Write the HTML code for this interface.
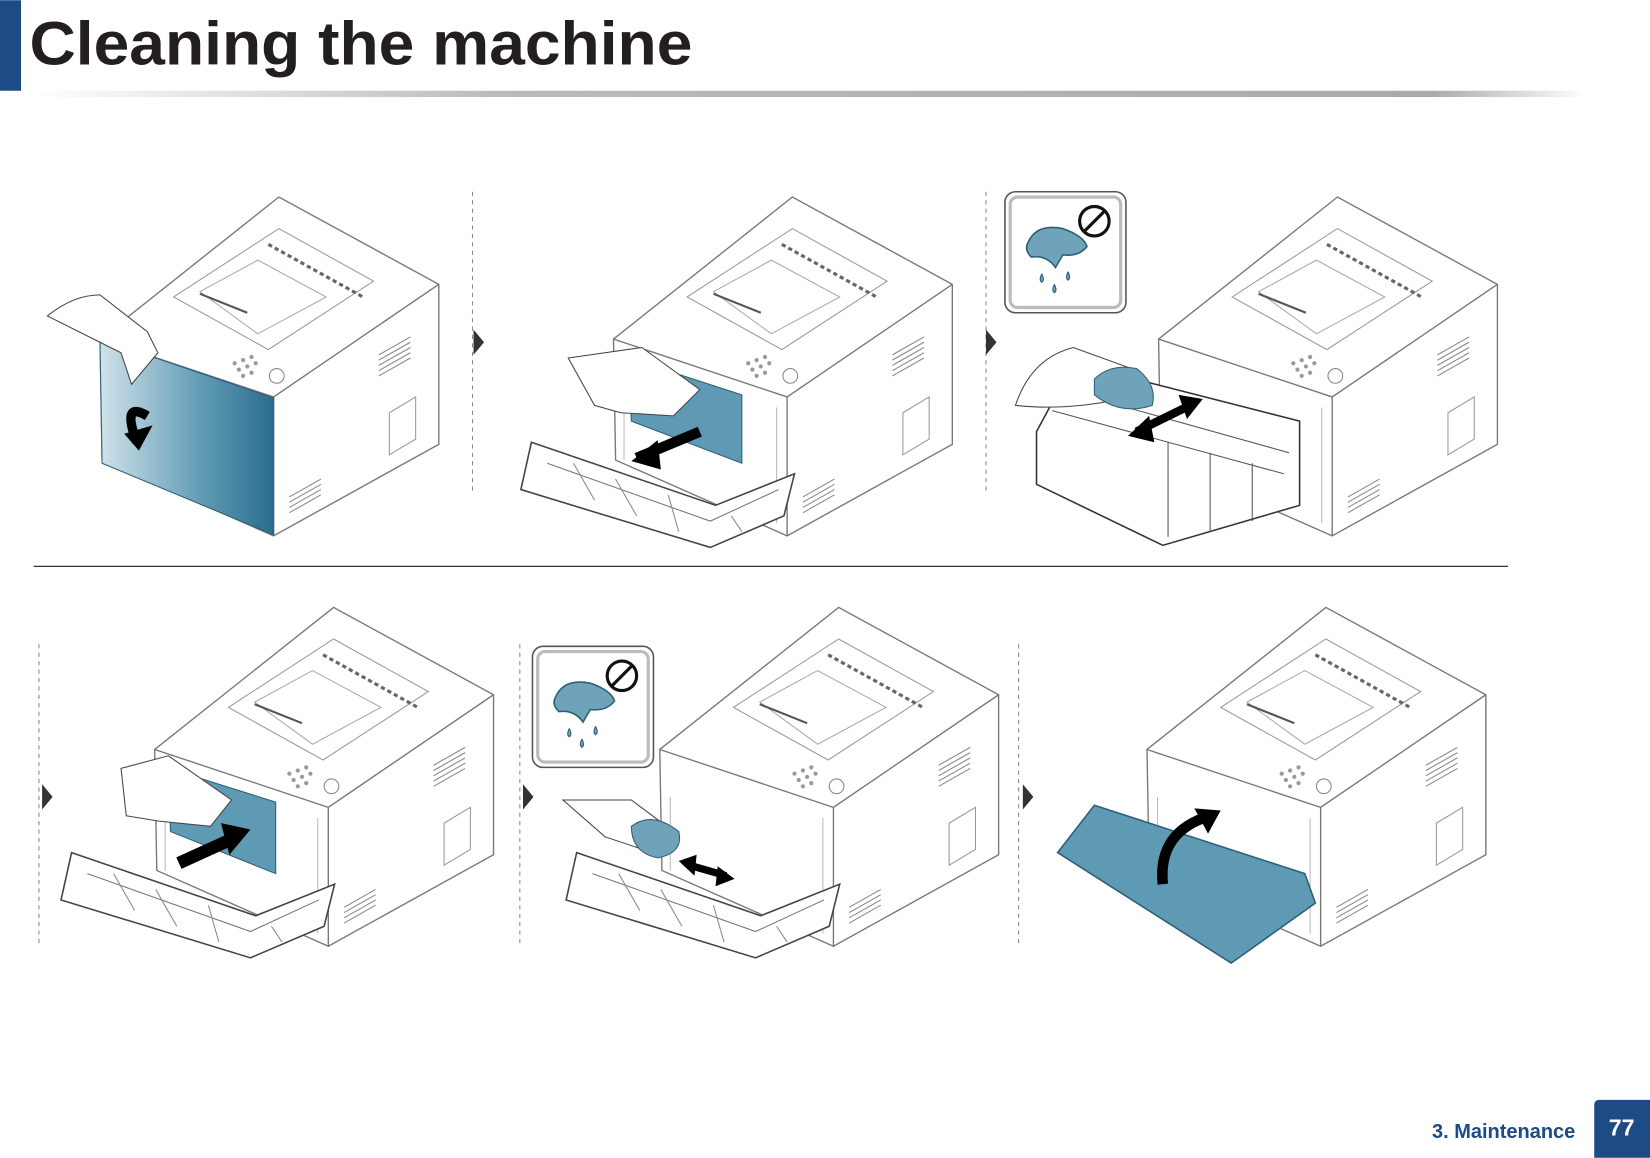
<!DOCTYPE html>
<html><head><meta charset="utf-8"><style>
html,body{margin:0;padding:0;background:#fff;width:1650px;height:1158px;overflow:hidden}
svg{display:block}
</style></head><body>
<svg width="1650" height="1158" viewBox="0 0 1568 1100" xmlns="http://www.w3.org/2000/svg">
<defs>
<linearGradient id="hl" x1="0" x2="1" y1="0" y2="0">
<stop offset="0" stop-color="#fff"/><stop offset="0.3" stop-color="#bbb"/><stop offset="0.9" stop-color="#aaa"/><stop offset="1" stop-color="#fff"/></linearGradient>
<linearGradient id="bl" x1="0" x2="1" y1="0" y2="0">
<stop offset="0" stop-color="#cfe2ea"/><stop offset="0.6" stop-color="#5e9ab3"/><stop offset="1" stop-color="#2a6d8c"/></linearGradient>
<g id="pr">
 <path d="M0,135 L170,0 L322,83 L322,235 L165,322 L2,250 Z" fill="#fff" stroke="#777" stroke-width="1.3"/>
 <path d="M0,135 L165,190 L322,83 M165,190 L165,322" fill="none" stroke="#777" stroke-width="1.3"/>
 <path d="M70,95 L170,30 L260,80 L160,145 Z" fill="none" stroke="#999"/>
 <path d="M95,90 L150,60 L215,95 L150,130 Z" fill="none" stroke="#aaa"/>
 <path d="M160,45 L250,95" stroke="#666" stroke-width="3" stroke-dasharray="4 3"/>
 <path d="M95,92 L140,110" stroke="#555" stroke-width="2"/>
 <g fill="none" stroke="#888"><circle cx="168" cy="170" r="7"/></g>
 <g fill="#999"><circle cx="128" cy="158" r="2"/><circle cx="136" cy="155" r="2"/><circle cx="144" cy="152" r="2"/><circle cx="132" cy="164" r="2"/><circle cx="140" cy="161" r="2"/><circle cx="148" cy="158" r="2"/><circle cx="136" cy="170" r="2"/><circle cx="144" cy="167" r="2"/></g>
 <path d="M265,150 L295,133 M265,155 L295,138 M265,160 L295,143 M265,165 L295,148 M265,170 L295,153" stroke="#888"/>
 <path d="M180,285 L210,268 M180,290 L210,273 M180,295 L210,278 M180,300 L210,283" stroke="#888"/>
 <path d="M275,205 L300,190 L300,230 L275,245 Z" fill="none" stroke="#999"/>
 <path d="M10,180 L10,250 M155,200 L155,310" stroke="#bbb"/>
</g>
<g id="tray">
 <path d="M0,0 L175,60 L250,30 L240,70 L170,100 L-10,45 Z" fill="#fff" stroke="#444" stroke-width="1.5"/>
 <path d="M15,20 L170,75 L235,45" fill="none" stroke="#777"/>
 <path d="M40,20 L60,55 M80,35 L100,70 M130,50 L140,85 M190,70 L200,85" stroke="#888"/>
</g>
<g id="nocloth">
 <rect x="0" y="0" width="115" height="115" rx="10" fill="#fff" stroke="#555" stroke-width="1.5"/>
 <rect x="5" y="5" width="105" height="105" rx="7" fill="none" stroke="#bbb" stroke-width="3"/>
 <path d="M22,48 Q30,30 55,35 Q75,42 78,52 Q70,62 55,60 L48,72 Q40,60 25,62 Q18,55 22,48Z" fill="#6ea3ba" stroke="#2d5f75" stroke-width="1.5"/>
 <path d="M35,78 q-3,6 0,8 q3,-2 0,-8 M47,88 q-3,6 0,8 q3,-2 0,-8 M60,76 q-3,6 0,8 q3,-2 0,-8" fill="#6ea3ba" stroke="#2d5f75"/>
 <circle cx="85" cy="28" r="14" fill="none" stroke="#111" stroke-width="3"/>
 <path d="M75,38 L95,18" stroke="#111" stroke-width="3"/>
</g>
<g id="tri"><path d="M0,-12 L10,0 L0,12 Z" fill="#333"/></g>
</defs>
<rect x="0" y="0" width="20" height="86" fill="#1c4b85"/>
<text x="28" y="61" font-family="Liberation Sans, sans-serif" font-weight="bold" font-size="58" fill="#231f20" textLength="630" lengthAdjust="spacingAndGlyphs">Cleaning the machine</text>
<rect x="28" y="86" width="1480" height="6" fill="url(#hl)"/>

<!-- top row -->
<use href="#pr" x="95" y="187"/>
<path d="M95,322 L260,378 L260,508 L97,440 Z" fill="url(#bl)" stroke="#2d5f75"/>
<path d="M140,395 Q115,380 130,420" fill="none" stroke="#000" stroke-width="9"/>
<path d="M118,412 L132,428 L145,404 Z" fill="#000"/>
<path d="M45,300 Q70,280 95,280 L140,315 L150,335 L125,365 L115,335 L85,320 Z" fill="#fff" stroke="#444"/>

<use href="#pr" x="583" y="187"/>
<path d="M597,340 L705,375 L705,440 L600,400 Z" fill="#5e9ab3" stroke="#2d5f75"/>
<use href="#tray" x="505" y="420"/>
<path d="M540,340 L610,330 L665,370 L640,395 L590,392 L565,385 Z" fill="#fff" stroke="#444"/>
<path d="M605,435 L665,410" stroke="#000" stroke-width="10"/><path d="M600,438 L625,418 L628,446 Z" fill="#000"/>

<use href="#nocloth" x="955" y="182"/>
<use href="#pr" x="1101" y="187"/>
<path d="M985,410 L1020,345 L1235,400 L1235,480 L1105,518 L985,460 Z" fill="#fff" stroke="#333" stroke-width="1.5"/>
<path d="M1000,390 L1220,450 M1010,370 L1225,430 M1110,420 L1110,510 M1150,430 L1150,505 M1190,440 L1190,495" stroke="#555"/>
<path d="M965,385 Q980,340 1020,330 L1075,350 L1060,380 Q1010,390 965,385Z" fill="#fff" stroke="#444"/>
<path d="M1040,360 Q1055,345 1080,350 Q1100,365 1095,385 Q1065,395 1040,375Z" fill="#6ea3ba" stroke="#2d5f75"/>
<path d="M1080,410 L1135,383" stroke="#000" stroke-width="8"/><path d="M1072,414 L1092,395 L1097,420Z M1143,379 L1120,375 L1128,398Z" fill="#000"/>

<path d="M449,182 V467 M937,182 V467" stroke="#888" stroke-dasharray="4 4"/>
<use href="#tri" x="450" y="325"/><use href="#tri" x="937" y="325"/>
<path d="M32,538 H1433" stroke="#333" stroke-width="1.3"/>

<!-- bottom row -->
<use href="#pr" x="147" y="577"/>
<path d="M160,730 L262,762 L262,830 L162,790 Z" fill="#5e9ab3" stroke="#2d5f75"/>
<use href="#tray" x="68" y="810"/>
<path d="M115,730 L160,718 L220,760 L200,785 L150,780 L120,775 Z" fill="#fff" stroke="#444"/>
<path d="M170,820 L225,795" stroke="#000" stroke-width="12"/><path d="M238,788 L210,782 L218,812Z" fill="#000"/>

<use href="#nocloth" x="506" y="614"/>
<use href="#pr" x="627" y="577"/>
<use href="#tray" x="548" y="810"/>
<path d="M535,760 L600,760 L640,790 L620,810 L575,795 Z" fill="#fff" stroke="#444"/>
<path d="M600,785 Q620,770 645,790 Q650,810 625,815 Q600,810 600,785Z" fill="#6ea3ba" stroke="#2d5f75"/>
<path d="M655,822 L690,832" stroke="#000" stroke-width="7"/><path d="M645,818 L662,812 L660,832Z M698,835 L682,823 L680,842Z" fill="#000"/>

<use href="#pr" x="1090" y="577"/>
<path d="M1005,810 L1040,765 L1240,830 L1250,858 L1170,915 Z" fill="#5e9ab3" stroke="#2d5f75" stroke-width="1.5"/>
<path d="M1105,840 Q1100,790 1150,775" fill="none" stroke="#000" stroke-width="10"/><path d="M1160,770 L1135,768 L1148,792Z" fill="#000"/>

<path d="M37,612 V898 M494,612 V898 M968,612 V898" stroke="#888" stroke-dasharray="4 4"/>
<use href="#tri" x="40" y="757"/><use href="#tri" x="497" y="757"/><use href="#tri" x="972" y="757"/>

<text x="1497" y="1081" text-anchor="end" font-family="Liberation Sans, sans-serif" font-weight="bold" font-size="19" fill="#1c4b85">3. Maintenance</text>
<path d="M1515,1100 V1050 Q1515,1045 1520,1045 H1568 V1100 Z" fill="#1c4b85"/>
<text x="1541" y="1079" text-anchor="middle" font-family="Liberation Sans, sans-serif" font-weight="bold" font-size="22" fill="#fff">77</text>
</svg>
</body></html>
